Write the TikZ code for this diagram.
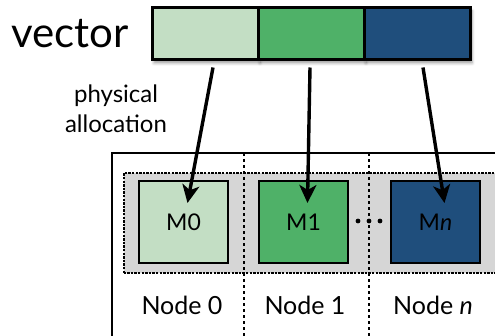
\documentclass[tikz,border=0pt]{standalone}
\usepackage{fontspec}
\setmainfont{Lato}
\usetikzlibrary{arrows.meta,shadows.blur}
\definecolor{mlight}{HTML}{C3DEC4}
\definecolor{mgreen}{HTML}{4FB168}
\definecolor{mblue}{HTML}{1F4E7C}
\definecolor{grayarea}{HTML}{D6D6D6}
\tikzset{cell/.style={rectangle,draw=black,line width=3pt,minimum width=106pt,minimum height=52pt,inner sep=0pt,
  blur shadow={shadow xshift=2pt,shadow yshift=-3pt,shadow blur radius=3pt,shadow opacity=40}}}
\tikzset{mem/.style={rectangle,draw=black,line width=2.4pt,minimum width=89pt,minimum height=82pt,inner sep=0pt,font=\fontsize{23}{23}\selectfont}}
\tikzset{lbl/.style={font=\fontsize{25}{25}\selectfont}}
\tikzset{alloc/.style={-{Stealth[length=18pt,width=17pt,inset=5pt]},line width=3.4pt}}

\begin{document}
\begin{tikzpicture}[x=1pt,y=1pt]
  \useasboundingbox (0,0) rectangle (495,335);
  \clip (0,0) rectangle (495,335);
  % machine frame
  \draw[line width=2pt,fill=white] (112,-10) rectangle (520,182);
  \draw[fill=grayarea,line width=1.6pt,dash pattern=on 2.4pt off 1.2pt] (124,62) rectangle (520,162);
  \draw[dashed,line width=1.1pt] (244,182) -- (244,-10);
  \draw[dashed,line width=1.1pt] (369,182) -- (369,-10);
  % vector
  \node[cell,fill=mlight] (v0) at (205,301) {};
  \node[cell,fill=mgreen] (v1) at (311,301) {};
  \node[cell,fill=mblue] (v2) at (417,301) {};
  \node[anchor=east,font=\fontsize{42}{42}\selectfont] (vec) at ([xshift=-18pt]v0.west) {vector};
  \node[align=center,font=\fontsize{24}{30}\selectfont] (phys) at (116,226) {physical\\allocation};
  % memories
  \node[mem,fill=mlight] (m0) at (183.5,113) {M0};
  \node[mem,fill=mgreen] (m1) at (303.5,113) {M1};
  \node[mem,fill=mblue] (mn) at (435.5,113) {M\textit{n}};
  \foreach \dx in {-11,0,11}
    \fill (369+\dx,114) circle (2.4);
  \node[lbl] (n0) at (182,30) {Node 0};
  \node[lbl] (n1) at (305,30) {Node 1};
  \node[lbl] (nn) at (433,30) {Node \textit{n}};
  \draw[alloc] ([xshift=8pt,yshift=-6pt]v0.south) -- ([xshift=4pt,yshift=19pt]m0.center);
  \draw[alloc] ([xshift=-1pt,yshift=-6pt]v1.south) -- ([xshift=4pt,yshift=19pt]m1.center);
  \draw[alloc] ([xshift=6pt,yshift=-6pt]v2.south) -- ([xshift=9pt,yshift=19pt]mn.center);
\end{tikzpicture}
\end{document}
